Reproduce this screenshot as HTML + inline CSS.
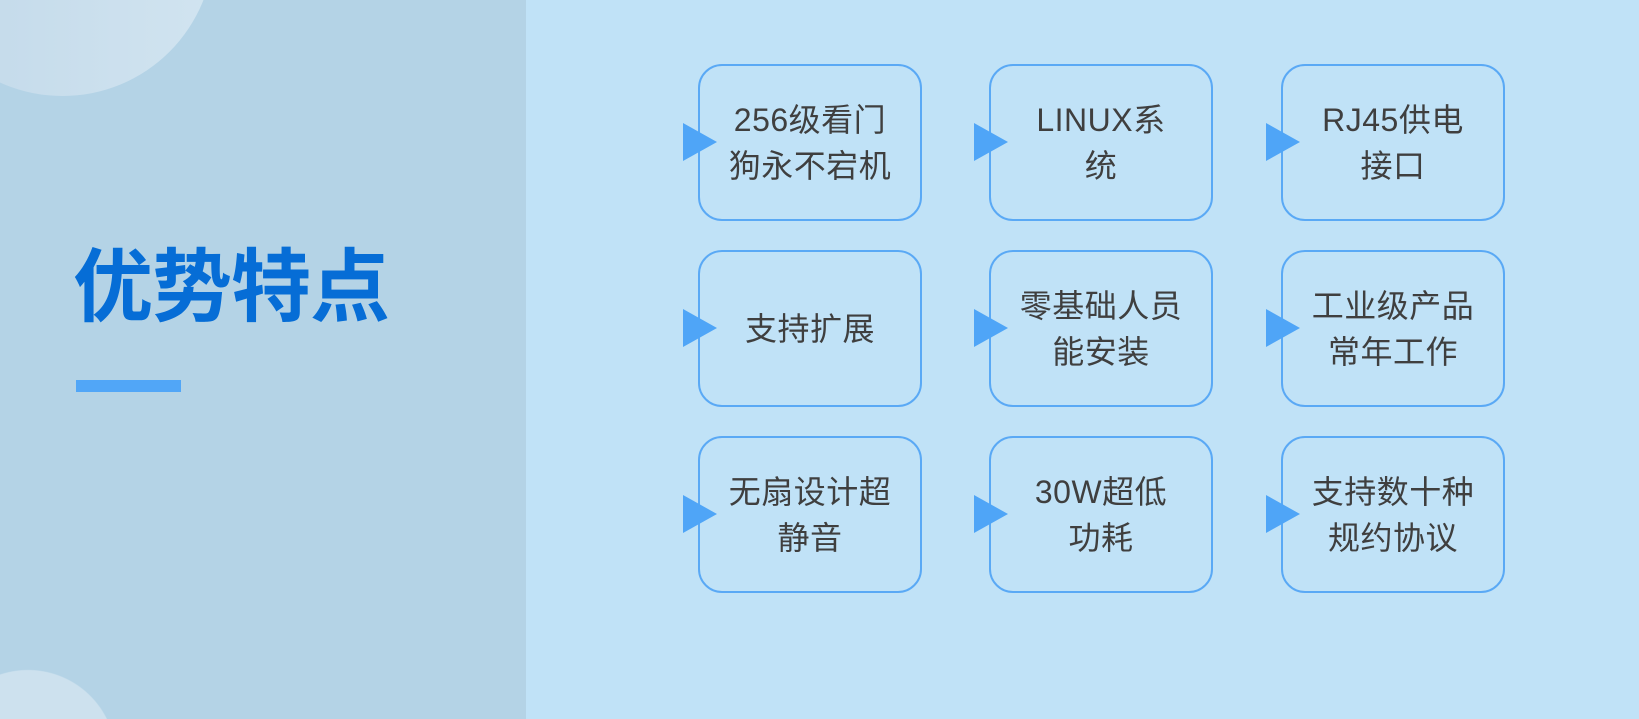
<!DOCTYPE html>
<html><head><meta charset="utf-8">
<style>
html,body{margin:0;padding:0;width:1639px;height:719px;overflow:hidden;}
body{position:relative;background:#c0e2f7;font-family:"Liberation Sans","Noto Sans CJK SC",sans-serif;}
.left{position:absolute;left:0;top:0;width:526px;height:719px;overflow:hidden;background:radial-gradient(circle 88px at 28px 758px,#cde1ee 87.5px,#b4d3e6 88.5px);}
.c1{position:absolute;left:-89.5px;top:-207px;width:303px;height:303px;border-radius:50%;background:linear-gradient(90deg,#c1d8e9,#d1e4f0);}
.title{position:absolute;left:73px;top:247px;font-size:80px;line-height:82px;font-weight:700;color:#066dd6;font-family:"Liberation Sans","Noto Sans CJK SC",sans-serif;white-space:nowrap;letter-spacing:-1px;}
.bar{position:absolute;left:76px;top:380px;width:105px;height:12px;background:#51a6f7;}
.box{position:absolute;width:220px;height:153px;border:2px solid #5aa9f5;border-radius:24px;display:flex;align-items:center;justify-content:center;text-align:center;font-size:32px;line-height:46px;color:#3f3f3f;font-family:"Liberation Sans","Noto Sans CJK SC",sans-serif;letter-spacing:0.5px;}
.tri{position:absolute;width:0;height:0;border-top:19.5px solid transparent;border-bottom:19.5px solid transparent;border-left:34px solid #4fa5f7;}
</style></head><body>
<div class="left">
  <div class="c1"></div>
  <div class="title">优势特点</div>
  <div class="bar"></div>
</div>

<div class="box" style="left:698px;top:64px;">256级看门<br>狗永不宕机</div>
<div class="box" style="left:989px;top:64px;">LINUX系<br>统</div>
<div class="box" style="left:1281px;top:64px;">RJ45供电<br>接口</div>

<div class="box" style="left:698px;top:250px;">支持扩展</div>
<div class="box" style="left:989px;top:250px;">零基础人员<br>能安装</div>
<div class="box" style="left:1281px;top:250px;">工业级产品<br>常年工作</div>

<div class="box" style="left:698px;top:436px;">无扇设计超<br>静音</div>
<div class="box" style="left:989px;top:436px;">30W超低<br>功耗</div>
<div class="box" style="left:1281px;top:436px;">支持数十种<br>规约协议</div>

<div class="tri" style="left:683px;top:122.5px;"></div>
<div class="tri" style="left:974px;top:122.5px;"></div>
<div class="tri" style="left:1266px;top:122.5px;"></div>
<div class="tri" style="left:683px;top:308.5px;"></div>
<div class="tri" style="left:974px;top:308.5px;"></div>
<div class="tri" style="left:1266px;top:308.5px;"></div>
<div class="tri" style="left:683px;top:494.5px;"></div>
<div class="tri" style="left:974px;top:494.5px;"></div>
<div class="tri" style="left:1266px;top:494.5px;"></div>
</body></html>
